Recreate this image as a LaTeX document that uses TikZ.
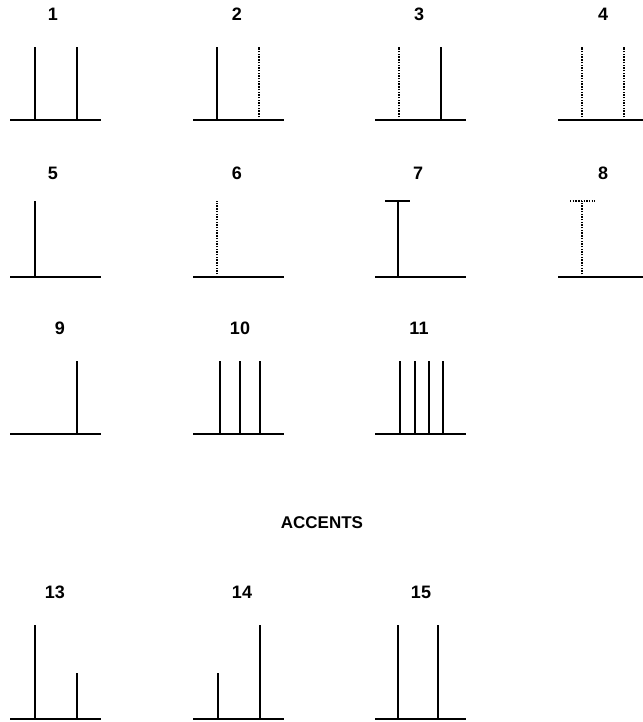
\documentclass[tikz,border=0pt]{standalone}
\usepackage{fontspec}
\setmainfont{Liberation Sans}
\usetikzlibrary{positioning}

\begin{document}
\begin{tikzpicture}[x=1pt, y=-1pt,
  num/.style={font=\fontsize{18}{20}\selectfont\bfseries, inner sep=0pt},
  base/.style={line width=2pt},
  stem/.style={line width=2pt},
  dotstem/.style={line width=2.2pt, dash pattern=on 1.4pt off 1.3pt}]
  \useasboundingbox (0,0) rectangle (642,722);
  % base lines
  \foreach \x/\y in {10/120, 193/120, 375/120, 558/120,
                     10/277, 193/277, 375/277, 558/277,
                     10/434, 193/434, 375/434,
                     10/719, 193/719, 375/719}
    \draw[base] (\x,\y) -- ++(91,0);
  % row 1
  \node[num] (lab1) at (53,14) {1};
  \node[num] (lab2) at (237,14) {2};
  \node[num] (lab3) at (419,14) {3};
  \node[num] (lab4) at (603,14) {4};
  \draw[stem] (35,120) -- (35,47);
  \draw[stem] (77,120) -- (77,47);
  \draw[stem] (217,120) -- (217,47);
  \draw[dotstem] (259,120) -- (259,47);
  \draw[dotstem] (399,120) -- (399,47);
  \draw[stem] (441,120) -- (441,47);
  \draw[dotstem] (582,120) -- (582,47);
  \draw[dotstem] (624,120) -- (624,47);
  % row 2
  \node[num] (lab5) at (53,173) {5};
  \node[num] (lab6) at (237,173) {6};
  \node[num] (lab7) at (418,173) {7};
  \node[num] (lab8) at (603,173) {8};
  \draw[stem] (35,277) -- (35,201);
  \draw[dotstem] (217,277) -- (217,201);
  \draw[stem] (398,277) -- (398,201);
  \draw[stem] (385,201) -- (410,201);
  \draw[dotstem] (582,277) -- (582,201);
  \draw[dotstem] (570,201) -- (595,201);
  % row 3
  \node[num] (lab9) at (60,328) {9};
  \node[num] (lab10) at (240,328) {10};
  \node[num] (lab11) at (419,328) {11};
  \draw[stem] (77,434) -- (77,361);
  \foreach \x in {220, 240, 260}
    \draw[stem] (\x,434) -- (\x,361);
  \foreach \x in {400, 415, 429, 443}
    \draw[stem] (\x,434) -- (\x,361);
  % accents
  \node[num, font=\fontsize{17}{19}\selectfont\bfseries] (accents) at (322,523) {ACCENTS};
  % row 4
  \node[num] (lab13) at (55,592) {13};
  \node[num] (lab14) at (242,592) {14};
  \node[num] (lab15) at (421,592) {15};
  \draw[stem] (35,719) -- (35,625);
  \draw[stem] (77,719) -- (77,673);
  \draw[stem] (218,719) -- (218,673);
  \draw[stem] (260,719) -- (260,625);
  \draw[stem] (398,719) -- (398,625);
  \draw[stem] (438,719) -- (438,625);
\end{tikzpicture}
\end{document}
